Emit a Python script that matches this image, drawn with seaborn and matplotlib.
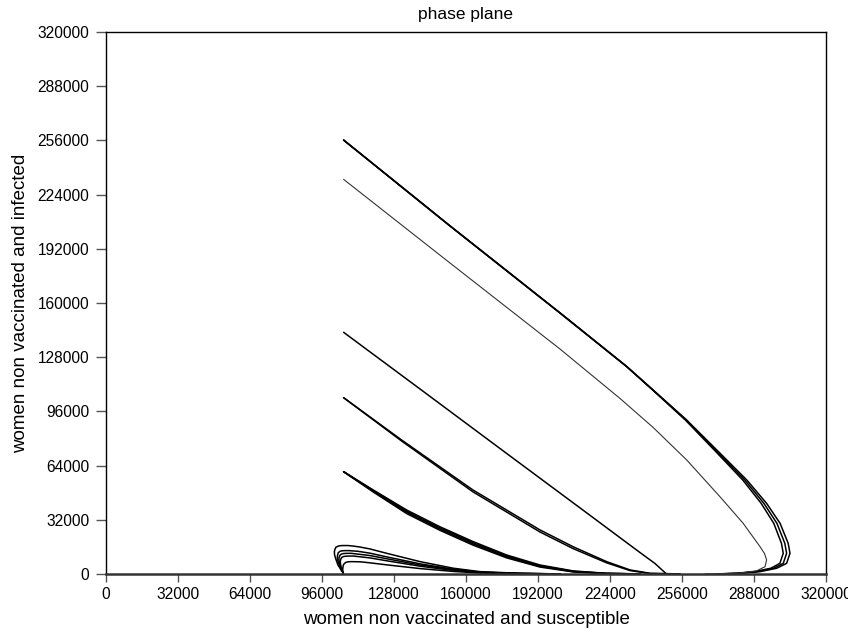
import pandas as pd
import matplotlib
matplotlib.use('Agg')
import matplotlib.pyplot as plt
import seaborn as sns

# trajectories (susceptible, infected)
traj_a1_x = [105600, 152900, 201800, 231400, 243200, 258100, 272900, 284800, 293600, 299600, 303200, 304000, 302500, 298100, 290700, 281800, 272900]
traj_a2_x = [105600, 152900, 201800, 231400, 243100, 257800, 272300, 283900, 292400, 298200, 301700, 302500, 301000, 296800, 289400, 280800, 272100]
traj_a3_x = [105600, 152900, 201800, 231400, 243000, 257500, 271700, 283000, 291200, 296800, 300200, 301000, 299500, 295500, 288100, 279800, 271300]
traj_a_y = [256200, 205500, 154100, 122500, 108600, 90900, 71300, 55500, 41700, 29900, 18100, 12200, 6300, 3400, 1400, 400, 50]

traj_b_x = [105600, 152900, 201800, 228400, 243200, 258100, 272900, 283200, 290700, 292700, 293600, 292900, 289200, 283200, 277300, 266200]
traj_b_y = [233000, 183600, 132800, 103700, 86500, 67300, 45600, 29900, 16100, 12000, 8300, 4300, 1900, 800, 200, 50]

traj_c_x = [105600, 139600, 175100, 210700, 237300, 244000, 249100]
traj_c_y = [142700, 109200, 74100, 39000, 12700, 6200, 0]

traj_d1_x = [105600, 131400, 163100, 192900, 207600, 222500, 232900, 241800, 255100]
traj_d1_y = [104100, 79100, 49600, 26000, 16100, 7300, 2400, 400, 50]
traj_d2_y = [104100, 78500, 48500, 24800, 15000, 6600, 2000, 300, 50]

traj_e_x = [105600, 118800, 133600, 148400, 163200, 178100, 192900, 207700, 222500, 237300]
traj_e1_y = [60400, 49600, 37800, 27900, 19100, 11200, 5300, 1800, 400, 50]
traj_e2_y = [60400, 49200, 37100, 27200, 18400, 10700, 4900, 1600, 350, 50]
traj_e3_y = [60400, 48800, 36400, 26500, 17700, 10100, 4500, 1400, 300, 50]
traj_e4_y = [60400, 48400, 35700, 25800, 17000, 9500, 4100, 1200, 250, 50]

traj_f1_x = [105500, 104300, 103100, 102300, 101600, 101500, 101800, 102200, 103100, 104000, 105300, 107500, 109900, 113000, 117300, 124800, 139600, 154400, 166200, 184000, 201800]
traj_f1_y = [600, 2800, 5300, 8200, 11200, 13200, 14800, 15800, 16400, 16700, 16800, 16800, 16500, 15900, 14800, 12200, 7300, 3400, 1400, 400, 50]
traj_f2_x = [105500, 104600, 103900, 103200, 102800, 102900, 103200, 103900, 104800, 106300, 108000, 112000, 117300, 124800, 139600, 154400, 166200, 184000, 201800]
traj_f2_y = [500, 2400, 4500, 7000, 9300, 11000, 12500, 13300, 13700, 13800, 13800, 13400, 12300, 10100, 6000, 2800, 1100, 350, 50]
traj_f3_x = [105500, 104800, 104300, 103800, 103500, 103600, 104000, 104700, 105600, 107200, 109000, 117300, 124800, 139600, 154400, 166200, 184000, 201800]
traj_f3_y = [400, 2100, 4000, 6200, 8300, 9800, 11100, 11800, 12100, 12200, 12200, 10900, 9000, 5300, 2500, 1000, 300, 50]
traj_f4_x = [105500, 105000, 104600, 104300, 104100, 104300, 104700, 105500, 106500, 108200, 110000, 117300, 124800, 139600, 154400, 166200, 184000, 201800]
traj_f4_y = [400, 1900, 3500, 5400, 7200, 8600, 9700, 10300, 10500, 10600, 10600, 9500, 7800, 4600, 2100, 850, 250, 50]
traj_f5_x = [105500, 105300, 105200, 105300, 105400, 105800, 106500, 107600, 109000, 113000, 117300, 124800, 139600, 154400, 166200, 184000, 201800]
traj_f5_y = [300, 1400, 2500, 3800, 5000, 6000, 6800, 7200, 7300, 7200, 6600, 5400, 3200, 1500, 600, 200, 50]

tick_values = [0, 32000, 64000, 96000, 128000, 160000, 192000, 224000, 256000, 288000, 320000]

curves = [
    ('a1', traj_a1_x, traj_a_y), ('a2', traj_a2_x, traj_a_y), ('a3', traj_a3_x, traj_a_y),
    ('c', traj_c_x, traj_c_y),
    ('d1', traj_d1_x, traj_d1_y), ('d2', traj_d1_x, traj_d2_y),
    ('e1', traj_e_x, traj_e1_y), ('e2', traj_e_x, traj_e2_y),
    ('e3', traj_e_x, traj_e3_y), ('e4', traj_e_x, traj_e4_y),
    ('f1', traj_f1_x, traj_f1_y), ('f2', traj_f2_x, traj_f2_y), ('f3', traj_f3_x, traj_f3_y),
    ('f4', traj_f4_x, traj_f4_y), ('f5', traj_f5_x, traj_f5_y),
]
rows = []
for name, xs, ys in curves:
    for xv, yv in zip(xs, ys):
        rows.append({'curve': name, 'S': xv, 'I': yv})
df = pd.DataFrame(rows)
df_thin = pd.DataFrame({'curve': 'b', 'S': traj_b_x, 'I': traj_b_y})

sns.set_style('white')
plt.rcParams['font.family'] = ['Liberation Sans', 'DejaVu Sans']
plt.rcParams['text.color'] = 'black'
plt.rcParams['axes.labelcolor'] = 'black'

fig = plt.figure(figsize=(8.48, 6.33), dpi=100)
ax = fig.add_axes([106 / 848, 1 - 574 / 633, 720 / 848, 542 / 633])

sns.lineplot(data=df, x='S', y='I', units='curve', estimator=None, sort=False,
             color='black', lw=1.1, ax=ax)
sns.lineplot(data=df_thin, x='S', y='I', units='curve', estimator=None, sort=False,
             color='#333333', lw=0.8, ax=ax)

ax.set_xlim(0, 320000)
ax.set_ylim(0, 320000)
ax.set_xticks(tick_values)
ax.set_yticks(tick_values)
ax.set_xticklabels([str(t) for t in tick_values])
ax.set_yticklabels([str(t) for t in tick_values])
ax.tick_params(direction='out', width=1, color='#555555', labelsize=11.2,
               labelcolor='black', bottom=True, left=True)
ax.tick_params(axis='y', length=7, pad=5)
ax.tick_params(axis='x', length=5.5, pad=4)
for side in ['left', 'right', 'top']:
    ax.spines[side].set_color('black')
    ax.spines[side].set_linewidth(1)
ax.spines['bottom'].set_color('#333333')
ax.spines['bottom'].set_linewidth(1.8)

ax.set_xlabel('women non vaccinated and susceptible', fontsize=13.5, labelpad=6)
ax.set_ylabel('women non vaccinated and infected', fontsize=13.5, labelpad=6)
ax.set_title('phase plane', fontsize=12.5, pad=9, color='black')

fig.savefig('out.png', dpi=100)
